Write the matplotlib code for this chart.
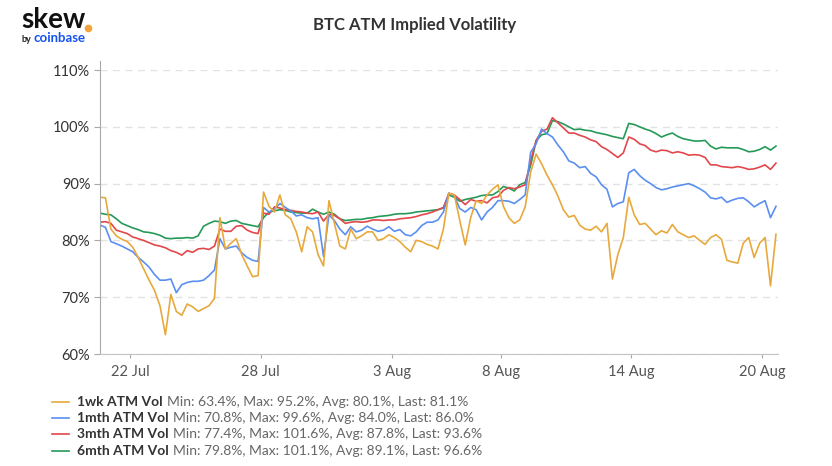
import numpy as np
import pandas as pd
import matplotlib
matplotlib.use("Agg")
from matplotlib import pyplot as plt
from matplotlib.lines import Line2D

plt.rcParams['font.family'] = ['Lato', 'DejaVu Sans']

# 6-hourly samples
times = pd.date_range("2021-07-20 15:00", periods=125, freq="6h")

vol_1wk = [
    87.6, 87.5, 82.0, 80.8, 80.2, 79.8, 78.8, 77.0, 75.0, 73.0,
    71.2, 68.5, 63.4, 70.5, 67.5, 66.8, 68.8, 68.3, 67.5, 68.0,
    68.5, 69.8, 84.0, 78.5, 79.5, 80.3, 77.5, 75.5, 73.6, 73.8,
    88.5, 86.0, 85.0, 88.0, 84.5, 83.8, 81.5, 78.0, 82.4, 81.5,
    77.5, 75.5, 87.0, 83.0, 79.0, 78.5, 82.0, 80.3, 80.8, 81.5,
    81.5, 80.0, 80.3, 81.0, 80.5, 79.8, 78.8, 78.0, 80.0, 79.8,
    79.3, 79.0, 78.5, 82.0, 88.3, 88.0, 83.5, 79.2, 84.0, 87.0,
    86.5, 88.0, 89.0, 89.8, 86.0, 84.0, 83.0, 83.6, 85.9, 92.0,
    95.2, 93.5, 91.5, 89.8, 87.8, 85.4, 84.1, 84.4, 82.7, 82.0,
    81.8, 82.5, 81.5, 83.0, 73.2, 77.5, 80.5, 87.6, 84.5, 82.8,
    83.0, 82.0, 81.0, 81.7, 81.3, 82.8, 81.5, 81.0, 80.5, 80.8,
    80.0, 79.3, 80.5, 81.0, 80.2, 76.5, 76.2, 76.0, 79.5, 80.5,
    77.0, 79.5, 80.5, 72.0, 81.1,
]
vol_1mth = [
    82.7, 82.3, 79.8, 79.4, 79.0, 78.5, 78.0, 77.0, 76.2, 75.3,
    74.0, 73.0, 73.0, 73.2, 70.8, 72.2, 72.6, 72.8, 72.8, 73.0,
    73.8, 74.8, 80.3, 78.5, 78.8, 79.0, 77.8, 77.0, 76.5, 76.3,
    85.8, 85.0, 85.5, 86.5, 85.8, 85.2, 84.3, 84.5, 84.0, 83.8,
    84.0, 77.2, 84.5, 83.5, 82.0, 81.0, 82.4, 81.5, 81.8, 82.5,
    82.0, 81.6, 81.8, 82.4, 81.6, 81.9, 81.0, 80.8, 81.5, 82.6,
    83.2, 83.2, 83.6, 85.0, 88.3, 87.8, 85.6, 85.0, 85.8, 85.4,
    83.6, 85.0, 85.8, 87.0, 87.0, 86.9, 86.5, 87.2, 88.0, 95.5,
    97.0, 99.6, 98.8, 98.2, 96.8, 95.6, 94.0, 93.6, 92.8, 93.0,
    91.8, 91.2, 89.8, 89.0, 85.9, 86.5, 86.8, 91.9, 92.5, 91.4,
    90.6, 90.0, 89.3, 88.9, 89.1, 89.4, 89.6, 89.8, 90.0, 89.6,
    89.1, 88.5, 87.5, 87.3, 87.6, 86.7, 87.1, 87.4, 87.5, 86.8,
    85.9, 86.5, 87.0, 84.0, 86.0,
]
vol_3mth = [
    83.2, 83.3, 83.0, 81.8, 81.5, 81.2, 80.6, 80.3, 80.0, 79.6,
    79.2, 79.0, 78.7, 78.2, 77.9, 77.4, 78.2, 77.9, 78.5, 78.6,
    78.4, 79.0, 82.0, 81.6, 81.6, 82.5, 82.6, 81.8, 81.4, 81.2,
    84.8, 84.6, 85.9, 85.7, 85.4, 85.3, 85.1, 85.0, 84.8, 84.7,
    85.0, 83.4, 84.6, 84.4, 83.8, 83.0, 83.2, 83.3, 83.2, 83.3,
    83.6, 83.6, 83.5, 83.6, 83.6, 83.8, 83.9, 84.0, 84.2, 84.5,
    84.7, 85.0, 85.4, 85.8, 88.3, 88.0, 87.2, 86.3, 87.2, 86.9,
    87.0, 86.6, 87.5, 87.7, 88.8, 89.3, 89.1, 89.4, 89.8, 94.0,
    97.6, 99.2, 99.6, 101.6, 100.7, 99.8, 98.9, 98.9, 98.5, 98.2,
    97.7, 97.4, 96.5, 96.0, 95.3, 94.6, 95.4, 98.2, 97.8, 97.0,
    96.7, 95.9, 95.6, 95.9, 95.8, 95.4, 95.6, 95.4, 95.0, 95.1,
    95.0, 94.6, 93.3, 93.3, 93.0, 92.9, 92.8, 93.0, 92.8, 92.5,
    92.6, 92.9, 93.3, 92.5, 93.6,
]
vol_6mth = [
    84.8, 84.6, 84.5, 83.8, 83.0, 82.6, 82.2, 81.9, 81.5, 81.4,
    81.2, 80.9, 80.4, 80.3, 80.4, 80.4, 80.5, 80.4, 80.8, 82.5,
    83.0, 83.4, 83.3, 83.0, 83.4, 83.5, 83.0, 82.8, 82.6, 82.4,
    84.0, 85.0, 85.2, 85.4, 85.3, 85.0, 84.9, 84.8, 84.8, 85.5,
    85.0, 84.6, 85.0, 84.6, 83.8, 83.5, 83.6, 83.7, 83.7, 83.9,
    84.0, 84.2, 84.3, 84.4, 84.6, 84.7, 84.7, 84.8, 85.0, 85.1,
    85.2, 85.3, 85.4, 85.7, 88.0, 87.6, 86.9, 87.2, 87.4, 87.6,
    87.9, 88.0, 88.0, 88.6, 89.5, 89.2, 88.7, 89.8, 90.2, 93.2,
    97.5, 98.6, 98.8, 101.1, 100.9, 100.5, 100.0, 99.5, 99.6, 99.4,
    99.3, 99.0, 98.8, 98.6, 98.3, 98.1, 97.9, 100.6, 100.4, 100.0,
    99.6, 99.3, 98.8, 98.2, 98.6, 98.9, 98.3, 97.9, 97.7, 97.5,
    97.5, 97.6, 96.6, 96.1, 96.4, 96.3, 96.3, 96.3, 96.0, 95.6,
    95.7, 96.0, 96.5, 95.9, 96.6,
]

series_names = ["1wk ATM Vol", "1mth ATM Vol", "3mth ATM Vol", "6mth ATM Vol"]
series_stats = [
    "Min: 63.4%, Max: 95.2%, Avg: 80.1%, Last: 81.1%",
    "Min: 70.8%, Max: 99.6%, Avg: 84.0%, Last: 86.0%",
    "Min: 77.4%, Max: 101.6%, Avg: 87.8%, Last: 93.6%",
    "Min: 79.8%, Max: 101.1%, Avg: 89.1%, Last: 96.6%",
]
colors = ['#e8a93c', '#5b8ff0', '#e2474b', '#259a58']

tick_dates = ["2021-07-22", "2021-07-28", "2021-08-03", "2021-08-08", "2021-08-14", "2021-08-20"]
tick_labels = ["22 Jul", "28 Jul", "3 Aug", "8 Aug", "14 Aug", "20 Aug"]
y_ticks = [60, 70, 80, 90, 100, 110]

df = pd.DataFrame({
    series_names[0]: vol_1wk,
    series_names[1]: vol_1mth,
    series_names[2]: vol_3mth,
    series_names[3]: vol_6mth,
}, index=times)

W, H = 832, 466
fig = plt.figure(figsize=(W / 100, H / 100), dpi=100)
ax = fig.add_axes([100 / W, 1 - 354 / H, 678 / W, 284 / H])

# draw longest-dated first so 1wk sits on top
for name, c in list(zip(series_names, colors))[::-1]:
    ax.plot(df.index, df[name], color=c, lw=1.2)

ax.set_ylim(60, 110)
ax.set_xlim(pd.Timestamp("2021-07-20 15:00"), pd.Timestamp("2021-08-20 17:15"))
ax.set_yticks(y_ticks)
ax.set_yticklabels([f"{v}%" for v in y_ticks])
ax.set_xticks(pd.to_datetime(tick_dates))
ax.set_xticklabels(tick_labels)

ax.grid(axis='y', color='#e2e2e2', linestyle=(0, (5, 4)), lw=1)
ax.set_axisbelow(True)
for s in ['top', 'right']:
    ax.spines[s].set_visible(False)
ax.spines['left'].set_color('#a8a8a8')
ax.spines['left'].set_bounds(60, 111.5)
ax.spines['bottom'].set_color('#c4c4c4')
ax.tick_params(axis='y', length=4, color='#a8a8a8', labelsize=10.5, labelcolor='#333333', pad=3)
ax.tick_params(axis='x', length=3, color='#a8a8a8', labelsize=10.5, labelcolor='#555555', pad=5)

# title and logo
fig.text(415 / W, 1 - 25 / H, "BTC ATM Implied Volatility", ha='center', va='center',
         fontsize=12, fontweight='bold', color='#333333')
logo = fig.text(21 / W, 1 - 20 / H, "skew", fontsize=20, fontweight='bold', color='#111111', va='center')
fig.text(22 / W, 1 - 39 / H, "by", fontsize=6.5, fontweight='bold', color='#222222', va='center')
fig.text(33 / W, 1 - 38 / H, "coinbase", fontsize=9.5, fontweight='bold', color='#1652f0', va='center')

fig.canvas.draw()
r = fig.canvas.get_renderer()
inv = fig.transFigure.inverted()

# orange dot of the logo
lb = logo.get_window_extent(r)
fig.add_artist(Line2D([inv.transform((lb.x1 + 3, 0))[0]], [1 - 28 / H], marker='o',
                      markersize=4.5, color='#f2a33a', lw=0))

# legend with bold names and plain stats
for k in range(4):
    yc = 1 - (402 + 16.2 * k) / H
    fig.add_artist(Line2D([52 / W, 69 / W], [yc, yc], color=colors[k], lw=1.2))
    t = fig.text(77 / W, yc, series_names[k], fontsize=10, fontweight='bold',
                 color='#333333', va='center')
    bb = t.get_window_extent(r)
    x1 = inv.transform((bb.x1 + 4, 0))[0]
    fig.text(x1, yc, series_stats[k], fontsize=10, color='#666666', va='center')

fig.savefig("out.png", dpi=100)
